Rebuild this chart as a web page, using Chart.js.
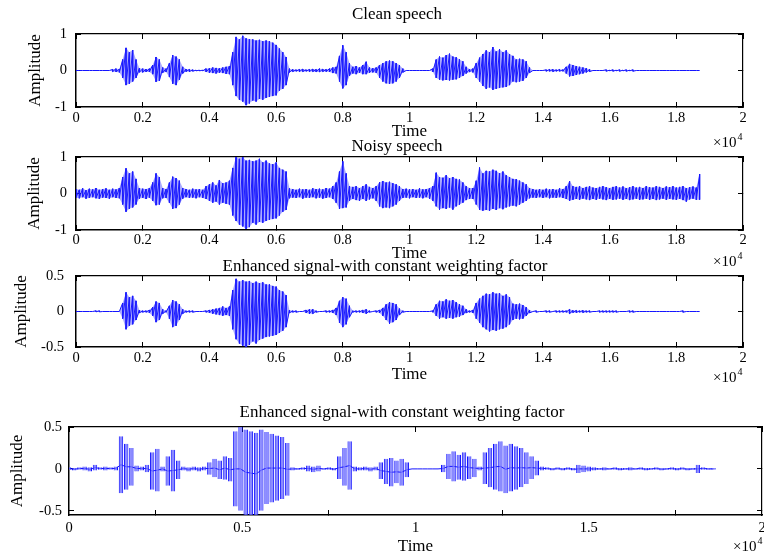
<!DOCTYPE html>
<html>
<head>
<meta charset="utf-8">
<script src="https://cdn.jsdelivr.net/npm/chart.js@4.4.0/dist/chart.umd.min.js"></script>
<style>
  html, body { margin: 0; padding: 0; background: #fff; }
  #wrap { position: relative; width: 764px; height: 559px; overflow: hidden; }
  #wrap canvas { position: absolute; left: 0; top: 0; }
</style>
</head>
<body>
<div id="wrap">
  <canvas id="p1" width="764" height="559"></canvas>
  <canvas id="p2" width="764" height="559"></canvas>
  <canvas id="p3" width="764" height="559"></canvas>
  <canvas id="p4" width="764" height="559"></canvas>
</div>
<script>
const FONT = "'Liberation Serif', 'Times New Roman', serif";
const BLUE = "#1414ff";
const BLUE_FILL = "rgba(40, 40, 255, 0.4)";

// axis ticks (x in samples, shown as x10^4)
const X_TICKS_FINE = [0, 2000, 4000, 6000, 8000, 10000, 12000, 14000, 16000, 18000, 20000];
const X_TICKS_COARSE = [0, 5000, 10000, 15000, 20000];
const Y_TICKS_ONE = [-1, 0, 1];
const Y_TICKS_HALF = [-0.5, 0, 0.5];

// envelope columns: one every 100 samples (panels 1-3), every 150 samples (panel 4)
const STEP_FINE = 100;
const STEP_COARSE = 150;

// Clean speech, upper / lower envelope
const CLEAN_HI = [
  0, 0, 0, 0, 0, 0, 0, 0, 0, 0,
  0, 0.03, 0.05, 0.04, 0.3, 0.62, 0.5, 0.56, 0.3, 0.06,
  0.05, 0.04, 0.05, 0.15, 0.37, 0.3, 0.08, 0.05, 0.2, 0.42,
  0.38, 0.3, 0.1, 0.04, 0.03, 0.02, 0.01, 0.01, 0.01, 0.05,
  0.06, 0.08, 0.07, 0.06, 0.08, 0.1, 0.12, 0.5, 0.92, 0.85,
  0.95, 0.88, 0.86, 0.85, 0.82, 0.84, 0.8, 0.82, 0.8, 0.76,
  0.7, 0.6, 0.5, 0.37, 0.05, 0.03, 0.02, 0.03, 0.04, 0.02,
  0.03, 0.04, 0.03, 0.05, 0.04, 0.03, 0.05, 0.08, 0.1, 0.4,
  0.69, 0.5, 0.2, 0.1, 0.12, 0.08, 0.15, 0.24, 0.08, 0.06,
  0.08, 0.15, 0.2, 0.25, 0.27, 0.25, 0.2, 0.15, 0.05, 0,
  0, 0, 0, 0, 0, 0, 0, 0.05, 0.3, 0.38,
  0.35, 0.42, 0.46, 0.38, 0.36, 0.3, 0.25, 0.1, 0.04, 0.05,
  0.2, 0.35, 0.45, 0.55, 0.5, 0.64, 0.52, 0.58, 0.5, 0.55,
  0.45, 0.4, 0.3, 0.32, 0.3, 0.25, 0.08, 0, 0, 0,
  0, 0.02, 0.03, 0.03, 0.02, 0.03, 0.02, 0.1, 0.18, 0.15,
  0.12, 0.1, 0.08, 0.06, 0.03, 0, 0, 0, 0, 0.02,
  0.01, 0.02, 0.01, 0.02, 0.01, 0.02, 0.01, 0.02, 0, 0,
  0, 0, 0, 0, 0, 0, 0, 0, 0, 0,
  0, 0, 0, 0, 0, 0, 0, 0
];
const CLEAN_LO = [
  0, 0, 0, 0, 0, 0, 0, 0, 0, 0,
  0, -0.03, -0.04, -0.05, -0.2, -0.4, -0.36, -0.3, -0.2, -0.05,
  -0.05, -0.04, -0.04, -0.1, -0.31, -0.28, -0.06, -0.04, -0.18, -0.36,
  -0.4, -0.25, -0.08, -0.03, -0.03, -0.02, -0.01, -0.01, -0.01, -0.04,
  -0.06, -0.07, -0.08, -0.06, -0.07, -0.09, -0.1, -0.4, -0.7, -0.8,
  -0.85, -0.95, -0.9, -0.82, -0.85, -0.78, -0.8, -0.75, -0.72, -0.7,
  -0.68, -0.55, -0.5, -0.4, -0.05, -0.03, -0.02, -0.03, -0.03, -0.02,
  -0.03, -0.03, -0.04, -0.04, -0.03, -0.03, -0.04, -0.07, -0.08, -0.3,
  -0.49, -0.4, -0.15, -0.08, -0.1, -0.06, -0.1, -0.1, -0.06, -0.05,
  -0.06, -0.2, -0.3, -0.35, -0.37, -0.35, -0.3, -0.2, -0.05, 0,
  0, 0, 0, 0, 0, 0, 0, -0.04, -0.2, -0.25,
  -0.27, -0.26, -0.27, -0.25, -0.24, -0.2, -0.15, -0.08, -0.04, -0.05,
  -0.2, -0.3, -0.42, -0.5, -0.46, -0.53, -0.5, -0.48, -0.46, -0.45,
  -0.4, -0.3, -0.32, -0.3, -0.28, -0.2, -0.06, 0, 0, 0,
  0, -0.02, -0.02, -0.03, -0.02, -0.02, -0.02, -0.08, -0.16, -0.15,
  -0.12, -0.1, -0.08, -0.05, -0.03, 0, 0, 0, 0, -0.02,
  -0.01, -0.02, -0.01, -0.02, -0.01, -0.02, -0.01, -0.02, 0, 0,
  0, 0, 0, 0, 0, 0, 0, 0, 0, 0,
  0, 0, 0, 0, 0, 0, 0, 0
];

// Noisy speech
const NOISY_HI = [
  0.12, 0.1, 0.14, 0.09, 0.13, 0.11, 0.15, 0.1, 0.12, 0.14,
  0.1, 0.13, 0.11, 0.15, 0.45, 0.69, 0.55, 0.6, 0.4, 0.15,
  0.13, 0.12, 0.15, 0.3, 0.55, 0.45, 0.15, 0.12, 0.3, 0.46,
  0.42, 0.35, 0.15, 0.12, 0.1, 0.13, 0.11, 0.12, 0.1, 0.2,
  0.25, 0.3, 0.22, 0.37, 0.28, 0.3, 0.35, 0.7, 1.0, 0.95,
  1.0, 0.9, 0.92, 0.88, 0.9, 0.95, 0.85, 0.9, 0.82, 0.8,
  0.85, 0.7, 0.65, 0.6, 0.14, 0.12, 0.1, 0.13, 0.11, 0.12,
  0.1, 0.14, 0.12, 0.13, 0.11, 0.15, 0.13, 0.2, 0.3, 0.6,
  0.88, 0.55, 0.2, 0.18, 0.2, 0.15, 0.2, 0.25, 0.18, 0.15,
  0.2, 0.3, 0.34, 0.3, 0.32, 0.28, 0.25, 0.2, 0.12, 0.13,
  0.11, 0.12, 0.1, 0.14, 0.11, 0.12, 0.15, 0.2, 0.57, 0.45,
  0.43, 0.5, 0.42, 0.45, 0.4, 0.38, 0.3, 0.2, 0.15, 0.15,
  0.35, 0.71, 0.55, 0.62, 0.6, 0.65, 0.62, 0.55, 0.6, 0.5,
  0.45, 0.4, 0.39, 0.35, 0.3, 0.25, 0.15, 0.12, 0.1, 0.12,
  0.1, 0.13, 0.11, 0.12, 0.1, 0.14, 0.12, 0.2, 0.34, 0.2,
  0.18, 0.2, 0.15, 0.18, 0.2, 0.16, 0.15, 0.18, 0.2, 0.17,
  0.15, 0.18, 0.2, 0.16, 0.19, 0.15, 0.17, 0.2, 0.16, 0.18,
  0.15, 0.2, 0.17, 0.16, 0.2, 0.18, 0.15, 0.19, 0.17, 0.2,
  0.16, 0.18, 0.2, 0.15, 0.17, 0.19, 0.16, 0.53
];
const NOISY_LO = [
  -0.11, -0.13, -0.1, -0.14, -0.12, -0.1, -0.13, -0.15, -0.11, -0.12,
  -0.14, -0.1, -0.12, -0.13, -0.3, -0.5, -0.42, -0.38, -0.3, -0.14,
  -0.12, -0.15, -0.11, -0.2, -0.32, -0.3, -0.13, -0.12, -0.25, -0.42,
  -0.4, -0.3, -0.14, -0.1, -0.12, -0.11, -0.13, -0.1, -0.12, -0.15,
  -0.2, -0.25, -0.22, -0.3, -0.25, -0.28, -0.3, -0.6, -0.75, -0.85,
  -0.9, -0.97, -0.92, -0.8, -0.85, -0.78, -0.8, -0.75, -0.72, -0.7,
  -0.68, -0.6, -0.5, -0.45, -0.13, -0.11, -0.12, -0.1, -0.14, -0.11,
  -0.12, -0.1, -0.13, -0.11, -0.14, -0.12, -0.1, -0.15, -0.25, -0.42,
  -0.4, -0.38, -0.2, -0.15, -0.18, -0.2, -0.15, -0.2, -0.16, -0.13,
  -0.2, -0.35, -0.4, -0.38, -0.4, -0.35, -0.3, -0.2, -0.12, -0.11,
  -0.13, -0.1, -0.12, -0.11, -0.13, -0.1, -0.14, -0.2, -0.35, -0.44,
  -0.4, -0.42, -0.38, -0.44, -0.35, -0.3, -0.25, -0.18, -0.15, -0.15,
  -0.3, -0.45, -0.47, -0.45, -0.47, -0.42, -0.45, -0.4, -0.43, -0.38,
  -0.35, -0.33, -0.35, -0.3, -0.25, -0.2, -0.13, -0.11, -0.12, -0.1,
  -0.12, -0.1, -0.13, -0.11, -0.12, -0.1, -0.12, -0.15, -0.2, -0.17,
  -0.15, -0.17, -0.14, -0.16, -0.18, -0.15, -0.17, -0.14, -0.16, -0.18,
  -0.15, -0.17, -0.16, -0.14, -0.17, -0.15, -0.18, -0.16, -0.14, -0.17,
  -0.16, -0.14, -0.17, -0.15, -0.18, -0.16, -0.14, -0.17, -0.15, -0.16,
  -0.17, -0.15, -0.18, -0.22, -0.16, -0.14, -0.17, -0.17
];

// Enhanced signal (panel 3)
const ENH_HI = [
  0, 0, 0, 0, 0, 0, 0.01, 0.01, 0, 0,
  0, 0, 0, 0, 0.12, 0.27, 0.2, 0.22, 0.15, 0.02,
  0.01, 0.01, 0.02, 0.06, 0.14, 0.12, 0.03, 0.01, 0.08, 0.16,
  0.14, 0.1, 0.03, 0.01, 0.01, 0.01, 0, 0, 0, 0.01,
  0.02, 0.03, 0.04, 0.05, 0.07, 0.05, 0.07, 0.3, 0.46, 0.42,
  0.44, 0.42, 0.43, 0.4, 0.42, 0.4, 0.41, 0.38, 0.38, 0.36,
  0.35, 0.3, 0.28, 0.23, 0.02, 0.01, 0.01, 0, 0, 0.02,
  0.03, 0.03, 0.01, 0, 0, 0.01, 0.01, 0.02, 0.05, 0.15,
  0.2, 0.18, 0.08, 0.01, 0.01, 0.01, 0.02, 0.03, 0.01, 0,
  0.01, 0.02, 0.05, 0.1, 0.13, 0.12, 0.1, 0.04, 0.01, 0,
  0, 0, 0, 0, 0, 0, 0, 0.01, 0.1, 0.15,
  0.14, 0.17, 0.15, 0.16, 0.13, 0.1, 0.08, 0.03, 0.01, 0.02,
  0.12, 0.18, 0.22, 0.25, 0.24, 0.27, 0.25, 0.26, 0.22, 0.24,
  0.2, 0.11, 0.1, 0.11, 0.09, 0.06, 0.02, 0, 0.01, 0,
  0, 0.01, 0.01, 0, 0.01, 0.01, 0.01, 0.01, 0.03, 0.015,
  0.015, 0.01, 0.015, 0.01, 0.01, 0, 0, 0.01, 0.01, 0.01,
  0.01, 0.01, 0.01, 0, 0, 0, 0.01, 0.01, 0, 0,
  0, 0, 0, 0, 0, 0, 0, 0, 0, 0,
  0, 0, 0.01, 0, 0, 0, 0, 0
];
const ENH_LO = [
  0, 0, 0, 0, 0, 0, -0.005, -0.005, 0, 0,
  0, 0, 0, 0, -0.1, -0.25, -0.2, -0.18, -0.12, -0.02,
  -0.01, -0.01, -0.02, -0.06, -0.15, -0.12, -0.03, -0.01, -0.1, -0.22,
  -0.2, -0.12, -0.03, -0.01, -0.01, -0.01, 0, 0, 0, -0.01,
  -0.02, -0.03, -0.04, -0.05, -0.06, -0.05, -0.06, -0.25, -0.39, -0.45,
  -0.48, -0.5, -0.47, -0.42, -0.45, -0.4, -0.38, -0.36, -0.35, -0.34,
  -0.33, -0.3, -0.27, -0.22, -0.02, -0.01, -0.01, 0, 0, -0.02,
  -0.03, -0.03, -0.01, 0, 0, -0.01, -0.01, -0.02, -0.05, -0.16,
  -0.22, -0.18, -0.08, -0.01, -0.01, -0.01, -0.02, -0.03, -0.01, 0,
  -0.01, -0.02, -0.06, -0.12, -0.17, -0.15, -0.12, -0.05, -0.01, 0,
  0, 0, 0, 0, 0, 0, 0, -0.01, -0.06, -0.1,
  -0.08, -0.1, -0.09, -0.1, -0.08, -0.07, -0.05, -0.02, -0.01, -0.02,
  -0.1, -0.16, -0.22, -0.25, -0.28, -0.26, -0.27, -0.25, -0.24, -0.22,
  -0.18, -0.12, -0.1, -0.11, -0.1, -0.06, -0.02, 0, -0.01, 0,
  0, -0.01, -0.01, 0, -0.01, -0.01, -0.01, -0.01, -0.03, -0.015,
  -0.015, -0.01, -0.015, -0.01, -0.01, 0, 0, -0.01, -0.01, -0.01,
  -0.01, -0.01, -0.01, 0, 0, 0, -0.01, -0.01, 0, 0,
  0, 0, 0, 0, 0, 0, 0, 0, 0, 0,
  0, 0, -0.01, 0, 0, 0, 0, 0
];

// Enhanced signal (panel 4, coarser columns)
const ENH2_HI = [
  0.02, 0.01, 0.02, 0.03, 0.02, 0.05, 0.02, 0.03, 0.02, 0.03,
  0.39, 0.3, 0.25, 0.04, 0.03, 0.05, 0.2, 0.24, 0.03, 0.15,
  0.23, 0.1, 0.03, 0.02, 0.03, 0.02, 0.03, 0.08, 0.12, 0.1,
  0.15, 0.13, 0.45, 0.5, 0.47, 0.45, 0.43, 0.47, 0.44, 0.42,
  0.4, 0.38, 0.31, 0.02, 0.01, 0.02, 0.04, 0.03, 0.04, 0.01,
  0.02, 0.01, 0.15, 0.25, 0.33, 0.03, 0.02, 0.03, 0.02, 0.03,
  0.08, 0.12, 0.13, 0.1, 0.12, 0.08, 0, 0, 0, 0,
  0, 0, 0.05, 0.18, 0.21, 0.17, 0.2, 0.15, 0.12, 0.03,
  0.2, 0.25, 0.3, 0.33, 0.28, 0.3, 0.27, 0.25, 0.2, 0.15,
  0.1, 0.03, 0.02, 0.01, 0.02, 0.01, 0.02, 0.01, 0.05, 0.04,
  0.03, 0.02, 0.01, 0.02, 0.01, 0.02, 0.01, 0.01, 0.02, 0.01,
  0.02, 0.01, 0.01, 0.02, 0.01, 0.01, 0.02, 0.01, 0.02, 0.01,
  0.01, 0.05, 0.02, 0.01, 0.01
];
const ENH2_LO = [
  -0.01, -0.02, -0.01, -0.02, -0.03, -0.02, -0.01, -0.02, -0.01, -0.02,
  -0.29, -0.25, -0.2, -0.03, -0.02, -0.04, -0.25, -0.27, -0.03, -0.2,
  -0.27, -0.12, -0.02, -0.03, -0.02, -0.03, -0.02, -0.07, -0.1, -0.12,
  -0.13, -0.15, -0.45, -0.5, -0.55, -0.55, -0.55, -0.5, -0.42, -0.4,
  -0.38, -0.36, -0.32, -0.02, -0.01, -0.01, -0.03, -0.04, -0.03, -0.01,
  -0.01, -0.02, -0.12, -0.2, -0.25, -0.03, -0.02, -0.02, -0.03, -0.02,
  -0.12, -0.18, -0.21, -0.17, -0.2, -0.1, 0, 0, 0, 0,
  0, 0, -0.04, -0.12, -0.15, -0.13, -0.14, -0.12, -0.1, -0.02,
  -0.18, -0.22, -0.25, -0.27, -0.29, -0.27, -0.25, -0.22, -0.18, -0.12,
  -0.08, -0.02, -0.01, -0.02, -0.01, -0.02, -0.01, -0.02, -0.05, -0.04,
  -0.03, -0.02, -0.01, -0.02, -0.01, -0.01, -0.02, -0.01, -0.02, -0.01,
  -0.01, -0.02, -0.01, -0.01, -0.02, -0.01, -0.01, -0.02, -0.01, -0.02,
  -0.01, -0.05, -0.01, -0.01, -0.01
];

const TITLE_CLEAN = "Clean speech";
const TITLE_NOISY = "Noisy speech";
const TITLE_ENH = "Enhanced signal-with constant weighting factor";

function sampleTimes(n, step) {
  return Array.from({ length: n }, (_, i) => i * step);
}

// waveform drawn as a vertical stroke per column: hi -> lo -> next hi ...
function zigzag(hi, lo, step) {
  const t = sampleTimes(hi.length, step);
  const pts = [];
  t.forEach((x, i) => {
    pts.push({ x, y: hi[i] });
    pts.push({ x, y: lo[i] });
  });
  return pts;
}

function envelope(values, step) {
  return sampleTimes(values.length, step).map((x, i) => ({ x, y: values[i] }));
}

const panelText = {
  id: "panelText",
  afterDraw(chart, args, opts) {
    const ctx = chart.ctx;
    ctx.save();
    ctx.fillStyle = "#000";
    ctx.textBaseline = "middle";
    ctx.font = `17px ${FONT}`;
    ctx.textAlign = "center";
    ctx.fillText(opts.title, opts.titleX, opts.titleY);
    ctx.textAlign = "left";
    ctx.font = `15px ${FONT}`;
    ctx.fillText("\u00d710", opts.expX, opts.expY);
    const w = ctx.measureText("\u00d710").width;
    ctx.font = `10px ${FONT}`;
    ctx.fillText("4", opts.expX + w + 1, opts.expY - 6);
    ctx.restore();
  },
};

function setTicks(values) {
  return (scale) => {
    scale.ticks = values.map((v) => ({ value: v }));
  };
}

function noPad(fn) {
  return (s) => {
    fn(s);
    s.paddingLeft = 0;
    s.paddingRight = 0;
    s.paddingTop = 0;
    s.paddingBottom = 0;
  };
}

function innerGrid() {
  return {
    display: true,
    drawOnChartArea: false,
    drawTicks: true,
    tickLength: -5,
    color: "#000",
    lineWidth: 1,
  };
}

function makePanel(id, p) {
  const a = p.area;
  const lh = 20.4;
  const xAxisH = p.timeY - a.b + lh / 2;
  const tickFont = { family: FONT, size: 14.5 };
  const titleFont = { family: FONT, size: 17 };

  return new Chart(document.getElementById(id), {
    type: "line",
    data: { datasets: p.datasets },
    options: {
      responsive: false,
      animation: false,
      devicePixelRatio: 1,
      events: [],
      layout: {
        padding: { top: a.t, left: 0, right: 764 - a.r, bottom: 559 - a.b - xAxisH },
      },
      plugins: {
        legend: { display: false },
        tooltip: { enabled: false },
        panelText: {
          title: p.title, titleX: p.titleX, titleY: p.titleY,
          expX: p.expX, expY: p.expY,
        },
      },
      scales: {
        x: {
          type: "linear",
          position: "bottom",
          min: 0,
          max: 20000,
          offset: false,
          afterBuildTicks: setTicks(p.xTicks),
          afterFit: noPad((s) => { s.height = xAxisH; }),
          grid: innerGrid(),
          border: { display: true, color: "#000", width: 1.5 },
          ticks: {
            color: "#000",
            font: tickFont,
            padding: p.tickPadX,
            autoSkip: false,
            maxRotation: 0,
            callback: (v) => String(+(v / 10000).toFixed(1)),
          },
          title: {
            display: true,
            text: "Time",
            color: "#000",
            font: titleFont,
            padding: 0,
          },
        },
        xt: {
          type: "linear",
          position: "top",
          min: 0,
          max: 20000,
          offset: false,
          afterBuildTicks: setTicks(p.xTicks),
          afterFit: noPad((s) => { s.height = 0; }),
          grid: innerGrid(),
          border: { display: true, color: "#000", width: 1.2 },
          ticks: { display: false },
        },
        y: {
          type: "linear",
          position: "left",
          min: p.yMin,
          max: p.yMax,
          afterBuildTicks: setTicks(p.yTicks),
          afterFit: noPad((s) => { s.width = a.l; }),
          grid: innerGrid(),
          border: { display: true, color: "#000", width: 1.5 },
          ticks: { color: "#000", font: tickFont, padding: p.tickPadY },
          title: {
            display: true,
            text: "Amplitude",
            color: "#000",
            font: titleFont,
            padding: { top: p.ampX - lh / 2, bottom: 0 },
          },
        },
        yr: {
          type: "linear",
          position: "right",
          min: p.yMin,
          max: p.yMax,
          afterBuildTicks: setTicks(p.yTicks),
          afterFit: noPad((s) => { s.width = 0; }),
          grid: innerGrid(),
          border: { display: true, color: "#000", width: 1.2 },
          ticks: { display: false },
        },
      },
    },
    plugins: [panelText],
  });
}

// light band between the envelopes, then the strokes on top
function waveDatasets(hi, lo) {
  return [
    {
      data: envelope(hi, STEP_FINE),
      borderWidth: 0,
      pointRadius: 0,
      backgroundColor: BLUE_FILL,
      fill: "+1",
    },
    {
      data: envelope(lo, STEP_FINE),
      borderWidth: 0,
      pointRadius: 0,
      fill: false,
    },
    {
      data: zigzag(hi, lo, STEP_FINE),
      borderColor: BLUE,
      borderWidth: 1,
      pointRadius: 0,
      tension: 0,
      fill: false,
    },
  ];
}

const t4 = sampleTimes(ENH2_HI.length, STEP_COARSE);

makePanel("p1", {
  area: { l: 76, t: 34, r: 743, b: 107 },
  yMin: -1, yMax: 1, yTicks: Y_TICKS_ONE, xTicks: X_TICKS_FINE,
  tickPadX: 7, tickPadY: 14, timeY: 132, ampX: 35.5,
  title: TITLE_CLEAN, titleX: 397, titleY: 15, expX: 713, expY: 143,
  datasets: waveDatasets(CLEAN_HI, CLEAN_LO),
});

makePanel("p2", {
  area: { l: 76, t: 157, r: 743, b: 230 },
  yMin: -1, yMax: 1, yTicks: Y_TICKS_ONE, xTicks: X_TICKS_FINE,
  tickPadX: 6, tickPadY: 14, timeY: 254, ampX: 35,
  title: TITLE_NOISY, titleX: 397, titleY: 147, expX: 713, expY: 262,
  datasets: waveDatasets(NOISY_HI, NOISY_LO),
});

makePanel("p3", {
  area: { l: 76, t: 276, r: 743, b: 347 },
  yMin: -0.5, yMax: 0.5, yTicks: Y_TICKS_HALF, xTicks: X_TICKS_FINE,
  tickPadX: 7, tickPadY: 17, timeY: 375, ampX: 22,
  title: TITLE_ENH, titleX: 385, titleY: 267, expX: 713, expY: 378,
  datasets: waveDatasets(ENH_HI, ENH_LO),
});

makePanel("p4", {
  area: { l: 69, t: 427, r: 762, b: 515 },
  yMin: -0.55, yMax: 0.5, yTicks: Y_TICKS_HALF, xTicks: X_TICKS_COARSE,
  tickPadX: 9, tickPadY: 12, timeY: 547, ampX: 17.5,
  title: TITLE_ENH, titleX: 402, titleY: 413, expX: 733, expY: 547,
  datasets: [
    {
      type: "bar",
      data: t4.map((x, i) => ({ x, y: [ENH2_LO[i], ENH2_HI[i]] })),
      backgroundColor: "rgba(110, 110, 255, 0.8)",
      borderColor: BLUE,
      borderWidth: { left: 1, right: 1, top: 0, bottom: 0 },
      borderSkipped: false,
      barPercentage: 0.85,
      categoryPercentage: 1,
    },
    {
      type: "line",
      data: t4.map((x, i) => ({ x, y: (ENH2_HI[i] + ENH2_LO[i]) / 2 })),
      borderColor: BLUE,
      borderWidth: 1,
      pointRadius: 0,
      fill: false,
    },
  ],
});
</script>
</body>
</html>
